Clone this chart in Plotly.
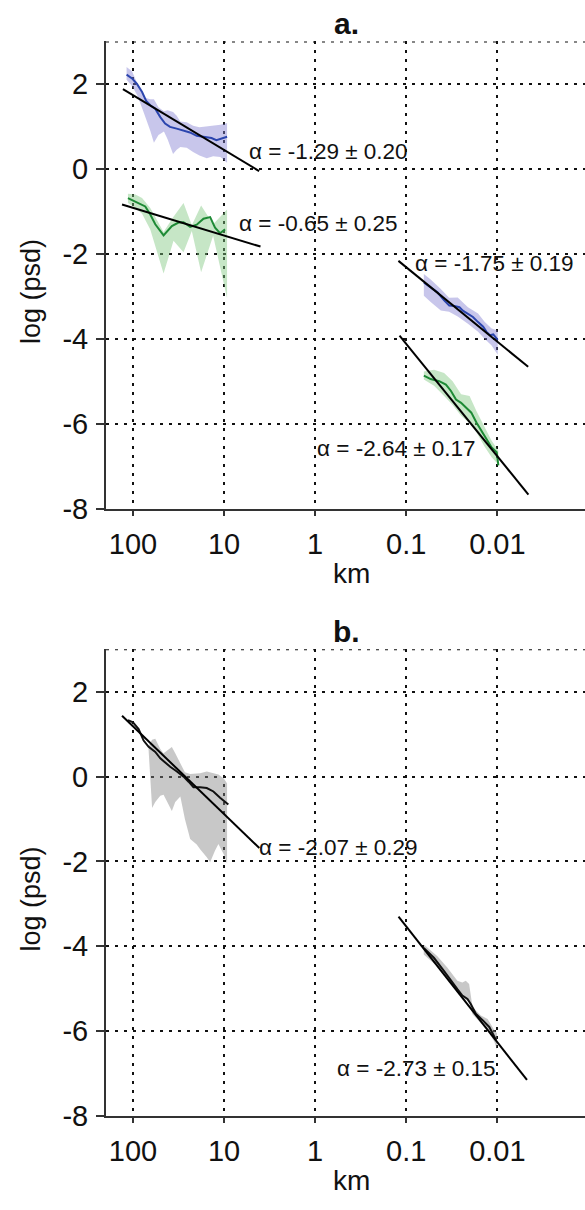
import plotly.graph_objects as go

# ---------------------------------------------------------------
# Wavelength positions are given as log10(km); curves are log(psd)
# ---------------------------------------------------------------

# Panel a, long wavelengths, blue series
a_blue_lo_x = [2.07, 2.01, 1.956, 1.90, 1.855, 1.81, 1.756, 1.70, 1.647, 1.593,
               1.52, 1.447, 1.375, 1.30, 1.247, 1.193, 1.138, 1.084, 1.029, 0.967]
a_blue_lo_y = [2.22, 2.13, 2.00, 1.81, 1.60, 1.50, 1.42, 1.22, 1.07, 0.99,
               0.95, 0.91, 0.86, 0.78, 0.76, 0.74, 0.73, 0.68, 0.71, 0.76]
a_blue_lo_bx = [2.07, 2.01, 1.95, 1.88, 1.81, 1.77, 1.72, 1.66, 1.62, 1.56,
                1.52, 1.48, 1.41, 1.34, 1.27, 1.19, 1.12, 1.04, 0.967]
a_blue_lo_hi = [2.40, 2.30, 2.00, 1.68, 1.64, 1.64, 1.45, 1.36, 1.38, 1.34,
                1.25, 1.12, 1.10, 1.02, 0.98, 1.00, 1.02, 1.04, 1.08]
a_blue_lo_lo = [2.10, 1.95, 1.72, 1.32, 0.90, 0.62, 0.80, 0.88, 0.70, 0.35,
                0.45, 0.52, 0.50, 0.40, 0.32, 0.25, 0.30, 0.28, 0.15]

# Panel a, long wavelengths, green series
a_green_lo_x = [2.055, 1.974, 1.865, 1.81, 1.755, 1.664, 1.573, 1.50, 1.445,
                1.372, 1.30, 1.226, 1.153, 1.099, 1.044, 0.989]
a_green_lo_y = [-0.685, -0.76, -0.88, -1.07, -1.30, -1.56, -1.34, -1.26, -1.25,
                -1.36, -1.31, -1.17, -1.13, -1.38, -1.51, -1.42]
a_green_lo_bx = [2.055, 1.974, 1.90, 1.81, 1.664, 1.555, 1.445, 1.354, 1.252, 1.12, 0.967]
a_green_lo_hi = [-0.58, -0.60, -0.68, -0.92, -1.48, -1.12, -0.80, -1.32, -0.86, -1.30, -0.95]
a_green_lo_lo = [-0.80, -0.92, -1.05, -1.42, -2.46, -1.69, -1.96, -1.46, -2.43, -1.57, -3.04]

# Panel a, short wavelengths, blue series
a_blue_hi_x = [-1.193, -1.268, -1.342, -1.416, -1.472, -1.528, -1.584, -1.621,
               -1.677, -1.732, -1.788, -1.844, -1.881, -1.918, -1.955, -2.004]
a_blue_hi_y = [-2.67, -2.78, -2.90, -3.09, -3.21, -3.22, -3.25, -3.33,
               -3.40, -3.48, -3.60, -3.71, -3.83, -3.91, -3.89, -4.02]
a_blue_hi_bx = [-1.193, -1.268, -1.379, -1.47, -1.565, -1.677, -1.788, -1.862, -1.937, -2.004]
a_blue_hi_hi = [-2.47, -2.60, -2.82, -3.03, -3.02, -3.25, -3.40, -3.60, -3.75, -3.80]
a_blue_hi_lo = [-2.98, -3.13, -3.33, -3.36, -3.47, -3.64, -3.83, -4.00, -4.15, -4.37]

# Panel a, short wavelengths, green series
a_green_hi_x = [-1.193, -1.268, -1.361, -1.435, -1.491, -1.546, -1.602, -1.658,
                -1.714, -1.770, -1.825, -1.881, -1.937, -1.993, -2.011]
a_green_hi_y = [-4.86, -4.94, -4.99, -5.07, -5.22, -5.42, -5.50, -5.61,
                -5.73, -5.96, -6.16, -6.35, -6.55, -6.66, -6.97]
a_green_hi_bx = [-1.193, -1.305, -1.416, -1.509, -1.602, -1.695, -1.770, -1.862, -1.937, -2.011]
a_green_hi_hi = [-4.76, -4.72, -4.80, -4.99, -5.30, -5.34, -5.69, -6.08, -6.39, -6.62]
a_green_hi_lo = [-4.95, -5.10, -5.34, -5.55, -5.80, -5.98, -6.19, -6.54, -6.78, -6.95]

# Panel b, long wavelengths
b_lo_x = [2.055, 2.0, 1.938, 1.883, 1.828, 1.755, 1.70, 1.646, 1.591, 1.518,
          1.445, 1.39, 1.336, 1.263, 1.19, 1.117, 1.044, 0.953]
b_lo_y = [1.33, 1.28, 1.12, 0.85, 0.70, 0.58, 0.43, 0.33, 0.23, 0.12,
          0.0, -0.12, -0.25, -0.25, -0.27, -0.35, -0.50, -0.66]
b_lo_bx = [1.83, 1.79, 1.755, 1.70, 1.664, 1.62, 1.573, 1.536, 1.48, 1.43, 1.372,
           1.30, 1.263, 1.19, 1.153, 1.10, 1.062, 1.0, 0.967]
b_lo_hi = [0.72, 0.87, 0.89, 0.65, 0.55, 0.62, 0.70, 0.55, 0.30, 0.10, 0.06,
           0.08, 0.08, 0.12, 0.10, 0.06, 0.05, -0.05, -0.16]
b_lo_lo = [0.68, -0.74, -0.60, -0.45, -0.43, -0.60, -0.81, -0.60, -0.47, -1.00, -1.47,
           -1.60, -1.71, -1.90, -2.02, -1.75, -1.59, -1.85, -2.05]

# Panel b, short wavelengths
b_hi_x = [-1.192, -1.303, -1.413, -1.487, -1.561, -1.616, -1.672, -1.708,
          -1.764, -1.838, -1.911, -1.967, -1.985]
b_hi_y = [-4.04, -4.27, -4.58, -4.81, -5.01, -5.16, -5.24, -5.36,
          -5.59, -5.74, -5.90, -6.13, -6.21]
b_hi_bx = [-1.192, -1.339, -1.450, -1.561, -1.616, -1.653, -1.690, -1.727, -1.819, -1.893, -1.967, -1.996]
b_hi_hi = [-3.96, -4.23, -4.50, -4.81, -4.85, -4.81, -4.89, -5.43, -5.63, -5.71, -5.98, -6.05]
b_hi_lo = [-4.19, -4.47, -4.74, -5.09, -5.18, -5.26, -5.30, -5.60, -5.80, -5.98, -6.25, -6.44]

# Power-law fits: log(psd) = c - alpha * log10(km), drawn between x0 and x1
fit_alpha = [-1.29, -0.65, -1.75, -2.64, -2.07, -2.73]
fit_err = [0.20, 0.25, 0.19, 0.17, 0.29, 0.15]
fit_c = [-0.842, -2.214, -0.5605, -1.475, -2.953, -0.802]
fit_x0 = [2.11, 2.12, -0.914, -0.926, 2.12, -0.915]
fit_x1 = [0.615, 0.60, -2.338, -2.341, 0.613, -2.325]
fit_panel = ["a", "a", "a", "a", "b", "b"]
# label anchor (left edge, vertical centre) in axis units
label_x = [0.749, 0.858, -1.074, 0.002, 0.639, -0.217]
label_y = [0.42, -1.29, -2.22, -6.58, -1.68, -6.89]

x_ticks = [100, 10, 1, 0.1, 0.01]
x_tick_text = ["100", "10", "1", "0.1", "0.01"]
y_ticks = [-8, -6, -4, -2, 0, 2]
y_tick_text = ["-8", "-6", "-4", "-2", "0", "2"]

BLUE = "#2b45ae"
GREEN = "#1d8a35"
BLUE_FILL = "rgba(133,128,211,0.45)"
GREEN_FILL = "rgba(128,199,128,0.45)"
GREY_FILL = "rgba(133,133,133,0.45)"
FONT = "Liberation Sans, Arial, sans-serif"
INK = "#111111"

W, H = 585, 1210


def km(vals):
    return [10 ** v for v in vals]


def px_x(p):
    return p / W


def px_y(p):
    return 1 - p / H


fig = go.Figure()

axes = {"a": ("x", "y"), "b": ("x2", "y2")}


def band(panel, bx, hi, lo, color):
    xa, ya = axes[panel]
    fig.add_trace(go.Scatter(
        x=km(bx) + km(bx[::-1]), y=hi + lo[::-1], fill="toself",
        fillcolor=color, line=dict(width=0), mode="lines",
        hoverinfo="skip", showlegend=False, xaxis=xa, yaxis=ya))


def curve(panel, x, y, color, width=2):
    xa, ya = axes[panel]
    fig.add_trace(go.Scatter(
        x=km(x), y=y, mode="lines", line=dict(color=color, width=width),
        showlegend=False, xaxis=xa, yaxis=ya))


band("a", a_blue_lo_bx, a_blue_lo_hi, a_blue_lo_lo, BLUE_FILL)
band("a", a_green_lo_bx, a_green_lo_hi, a_green_lo_lo, GREEN_FILL)
band("a", a_blue_hi_bx, a_blue_hi_hi, a_blue_hi_lo, BLUE_FILL)
band("a", a_green_hi_bx, a_green_hi_hi, a_green_hi_lo, GREEN_FILL)
band("b", b_lo_bx, b_lo_hi, b_lo_lo, GREY_FILL)
band("b", b_hi_bx, b_hi_hi, b_hi_lo, GREY_FILL)

curve("a", a_blue_lo_x, a_blue_lo_y, BLUE)
curve("a", a_green_lo_x, a_green_lo_y, GREEN)
curve("a", a_blue_hi_x, a_blue_hi_y, BLUE)
curve("a", a_green_hi_x, a_green_hi_y, GREEN)
curve("b", b_lo_x, b_lo_y, INK)
curve("b", b_hi_x, b_hi_y, INK)

annotations = []
for i, alpha in enumerate(fit_alpha):
    xs = [fit_x0[i], fit_x1[i]]
    ys = [fit_c[i] - alpha * v for v in xs]
    curve(fit_panel[i], xs, ys, "#000000", width=2)
    xa, ya = axes[fit_panel[i]]
    annotations.append(dict(
        x=label_x[i], y=label_y[i], xref=xa, yref=ya,
        text=f"\u03b1 = {alpha:.2f} \u00b1 {fit_err[i]:.2f}",
        showarrow=False, xanchor="left", yanchor="middle",
        font=dict(family=FONT, size=22.5, color=INK)))

# panel titles and axis titles
for top, bottom, name in [(42, 516, "a."), (658, 1131, "b.")]:
    annotations.append(dict(
        x=px_x(346), y=px_y(top - 18), xref="paper", yref="paper",
        text=f"<b>{name}</b>", showarrow=False, xanchor="center", yanchor="middle",
        font=dict(family=FONT, size=30, color=INK)))
    annotations.append(dict(
        x=px_x(31), y=px_y((top + bottom) / 2 + 17), xref="paper", yref="paper",
        text="log (psd)", textangle=-90, showarrow=False,
        xanchor="center", yanchor="middle",
        font=dict(family=FONT, size=27, color=INK)))
    annotations.append(dict(
        x=px_x(351), y=px_y(bottom + 65), xref="paper", yref="paper",
        text="km", showarrow=False, xanchor="center", yanchor="middle",
        font=dict(family=FONT, size=28, color=INK)))

x_range = [2.296, -2.962]
y_range = [-8, 3]

GRID = dict(showgrid=True, gridcolor=INK, gridwidth=2, griddash="3px,6px")

common_x = dict(
    type="log", range=x_range, tickvals=x_ticks, ticktext=x_tick_text,
    showline=True, linecolor="#333333", linewidth=2,
    ticks="outside", ticklen=5, tickwidth=2, tickcolor="#333333",
    tickfont=dict(family=FONT, size=29, color=INK),
    ticklabelstandoff=3, zeroline=False, **GRID)
common_y = dict(
    range=y_range, tickvals=y_ticks, ticktext=y_tick_text,
    showline=True, linecolor="#333333", linewidth=2,
    ticks="outside", ticklen=8, tickwidth=2, tickcolor="#333333",
    tickfont=dict(family=FONT, size=29, color=INK),
    ticklabelstandoff=2, zeroline=False, **GRID)

fig.update_layout(
    width=W, height=H, margin=dict(l=0, r=0, t=0, b=0),
    paper_bgcolor="white", plot_bgcolor="white",
    xaxis=dict(common_x, domain=[px_x(106), 1], anchor="y"),
    yaxis=dict(common_y, domain=[px_y(516), px_y(42)], anchor="x"),
    xaxis2=dict(common_x, domain=[px_x(106), 1], anchor="y2"),
    yaxis2=dict(common_y, domain=[px_y(1131), px_y(658)], anchor="x2"),
    annotations=annotations,
    shapes=[
        dict(type="line", xref="x domain", yref="y", x0=0, x1=1, y0=3, y1=3,
             line=dict(color=INK, width=2, dash="3px,6px")),
        dict(type="line", xref="x2 domain", yref="y2", x0=0, x1=1, y0=3, y1=3,
             line=dict(color=INK, width=2, dash="3px,6px")),
    ],
)

fig.write_html("out.html")
